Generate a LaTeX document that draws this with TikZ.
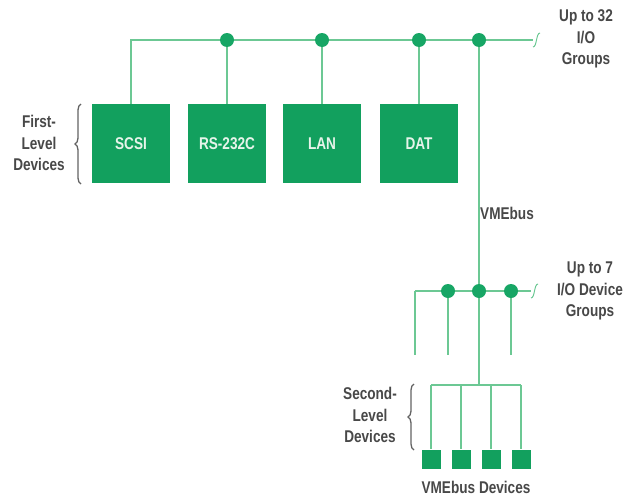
\documentclass[tikz,border=0pt]{standalone}
\usepackage{fontspec}
\setmainfont{Liberation Sans}[FakeStretch=0.8]
\usetikzlibrary{decorations.pathreplacing}
\definecolor{boxg}{HTML}{12A05E}
\definecolor{lineg}{HTML}{6CC894}
\definecolor{dotg}{HTML}{17A665}
\definecolor{txt}{HTML}{484848}
\definecolor{boxtxt}{HTML}{E6F4EA}
\begin{document}
\begin{tikzpicture}[x=1pt,y=-1pt,
  font=\bfseries\fontsize{17}{21.5}\selectfont,
  dev/.style={rectangle, fill=boxg, minimum width=78pt, minimum height=79pt, inner sep=0pt, text=boxtxt},
  sq/.style={rectangle, fill=boxg, minimum size=19pt, inner sep=0pt},
  bus/.style={draw=lineg, line width=1.6pt},
  brk/.style={draw=lineg, line width=1pt},
  dotn/.style={circle, fill=dotg, minimum size=14pt, inner sep=0pt},
  lbl/.style={text=txt, align=center, inner sep=0pt},
  brace/.style={draw=txt!85, line width=1.3pt, decorate, decoration={brace, amplitude=6pt}}]
\useasboundingbox (0,0) rectangle (629,498);
% first-level devices
\node[dev] (scsi) at (131,143.5) {SCSI};
\node[dev] (rs) at (227,143.5) {RS-232C};
\node[dev] (lan) at (322,143.5) {LAN};
\node[dev] (dat) at (419,143.5) {DAT};
% top bus points
\coordinate (tl) at (131,40);
\coordinate (p1) at (227,40);
\coordinate (p2) at (322,40);
\coordinate (p3) at (419,40);
\coordinate (p4) at (479,40);
\coordinate (tr) at (533,40);
\draw[bus] (scsi.north) -- (tl) -- (tr);
\draw[brk] (533,47) .. controls (537,47) and (536,33) .. (540,33);
\draw[bus] (p1) -- (rs.north);
\draw[bus] (p2) -- (lan.north);
\draw[bus] (p3) -- (dat.north);
% VMEbus
\coordinate (q1) at (448,291);
\coordinate (q2) at (479,291);
\coordinate (q3) at (511,291);
\coordinate (ql) at (415,291);
\coordinate (qr) at (531,291);
\coordinate (junc) at (479,385);
\draw[bus] (p4) -- (q2) -- (junc);
\draw[bus] (ql) -- (qr);
\draw[brk] (531,298) .. controls (535,298) and (534,284) .. (538,284);
\coordinate (e0) at (415,355);
\coordinate (e1) at (448,355);
\coordinate (e3) at (511,355);
\draw[bus] (ql) -- (e0);
\draw[bus] (q1) -- (e1);
\draw[bus] (q3) -- (e3);
% second-level devices
\node[sq] (s1) at (431,459) {};
\node[sq] (s2) at (461,459) {};
\node[sq] (s3) at (491,459) {};
\node[sq] (s4) at (521,459) {};
\coordinate (h1) at (431,385);
\coordinate (h2) at (461,385);
\coordinate (h3) at (491,385);
\coordinate (h4) at (521,385);
\draw[bus] (h1) -- (h4);
\draw[bus] (h1) -- (s1.north);
\draw[bus] (h2) -- (s2.north);
\draw[bus] (h3) -- (s3.north);
\draw[bus] (h4) -- (s4.north);
% dots on top
\node[dotn] (d1) at (p1) {};
\node[dotn] (d2) at (p2) {};
\node[dotn] (d3) at (p3) {};
\node[dotn] (d4) at (p4) {};
\node[dotn] (d5) at (q1) {};
\node[dotn] (d6) at (q2) {};
\node[dotn] (d7) at (q3) {};
% labels
\node[lbl] (up32) at (586,39) {Up to 32\\I/O\\Groups};
\node[lbl] (up7) at (590,291) {Up to 7\\I/O Device\\Groups};
\node[lbl] (first) at (39,143) {First-\\Level\\Devices};
\node[lbl] (second) at (370,415) {Second-\\Level\\Devices};
\node[lbl] (vme) at (507,213) {VMEbus};
\node[lbl] (vmed) at (476,487) {VMEbus Devices};
\draw[brace] (81,184) -- (81,104);
\draw[brace] (414,450) -- (414,384);
\end{tikzpicture}
\end{document}
